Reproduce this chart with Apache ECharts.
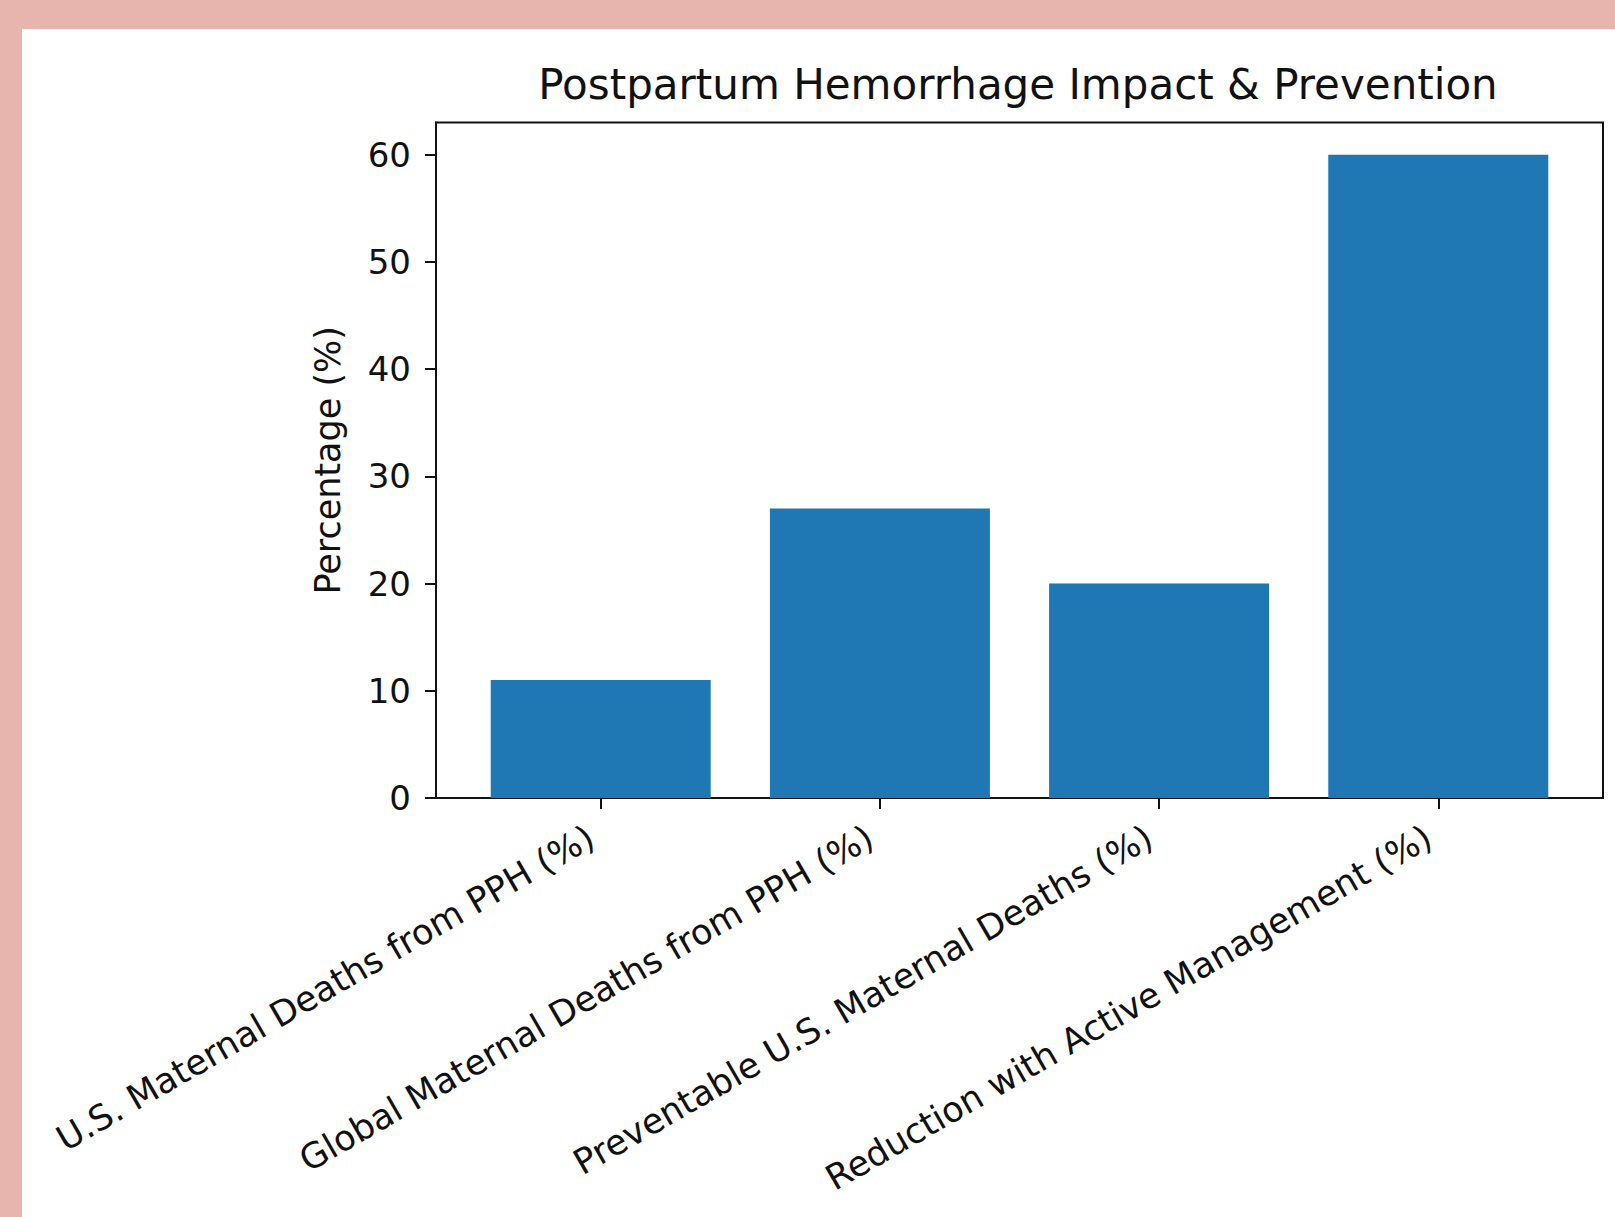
<!DOCTYPE html>
<html>
<head>
<meta charset="utf-8">
<script src="https://cdn.jsdelivr.net/npm/echarts@6/dist/echarts.min.js"></script>
<style>
  html, body { margin: 0; padding: 0; width: 1615px; height: 1217px; background: #e8b5ae; overflow: hidden; }
  #chart { position: absolute; left: 22px; top: 29px; width: 1593px; height: 1188px; background: #ffffff; }
</style>
</head>
<body>
<div id="chart"></div>
<script>
const titleText = "Postpartum Hemorrhage Impact & Prevention";
const yAxisTitle = "Percentage (%)";
const categories = [
  "U.S. Maternal Deaths from PPH (%)",
  "Global Maternal Deaths from PPH (%)",
  "Preventable U.S. Maternal Deaths (%)",
  "Reduction with Active Management (%)"
];
const values = [11, 27, 20, 60];
const yTicks = [0, 10, 20, 30, 40, 50, 60];

const positions = categories.map((c, i) => i);
const barData = values.map((v, i) => [positions[i], v]);

const font = "'DejaVu Sans', sans-serif";
const chart = echarts.init(document.getElementById('chart'), null, { renderer: 'svg' });
chart.setOption({
  animation: false,
  backgroundColor: '#ffffff',
  title: {
    text: titleText,
    left: 991,
    textAlign: 'center',
    top: 29,
    textStyle: { fontFamily: font, fontSize: 42, fontWeight: 'normal', color: '#111' }
  },
  grid: {
    left: 414, top: 93.6, width: 1167, height: 675.4,
    show: true, borderColor: '#111', borderWidth: 2, backgroundColor: 'transparent',
    containLabel: false
  },
  xAxis: {
    type: 'value',
    min: -0.59, max: 3.59,
    splitLine: { show: false },
    axisLine: { show: true, onZero: false, lineStyle: { color: '#111', width: 2 } },
    axisTick: { show: true, customValues: positions, length: 11, lineStyle: { color: '#111', width: 2 } },
    axisLabel: {
      customValues: positions,
      formatter: v => categories[Math.round(v)],
      rotate: 30, margin: 31,
      padding: [0, 11, 0, 0],
      fontFamily: font, fontSize: 35, color: '#111'
    }
  },
  yAxis: {
    type: 'value',
    min: 0, max: 63,
    name: yAxisTitle, nameLocation: 'middle', nameGap: 91, nameRotate: 90,
    nameTextStyle: { fontFamily: font, fontSize: 35, color: '#111' },
    splitLine: { show: false },
    axisLine: { show: true, onZero: false, lineStyle: { color: '#111', width: 2 } },
    axisTick: { show: true, customValues: yTicks, length: 11, lineStyle: { color: '#111', width: 2 } },
    axisLabel: { customValues: yTicks, margin: 25, fontFamily: font, fontSize: 34, color: '#111' }
  },
  series: [{
    type: 'bar',
    data: barData,
    barWidth: 220,
    itemStyle: { color: '#1f77b4' }
  }]
});
</script>
</body>
</html>
